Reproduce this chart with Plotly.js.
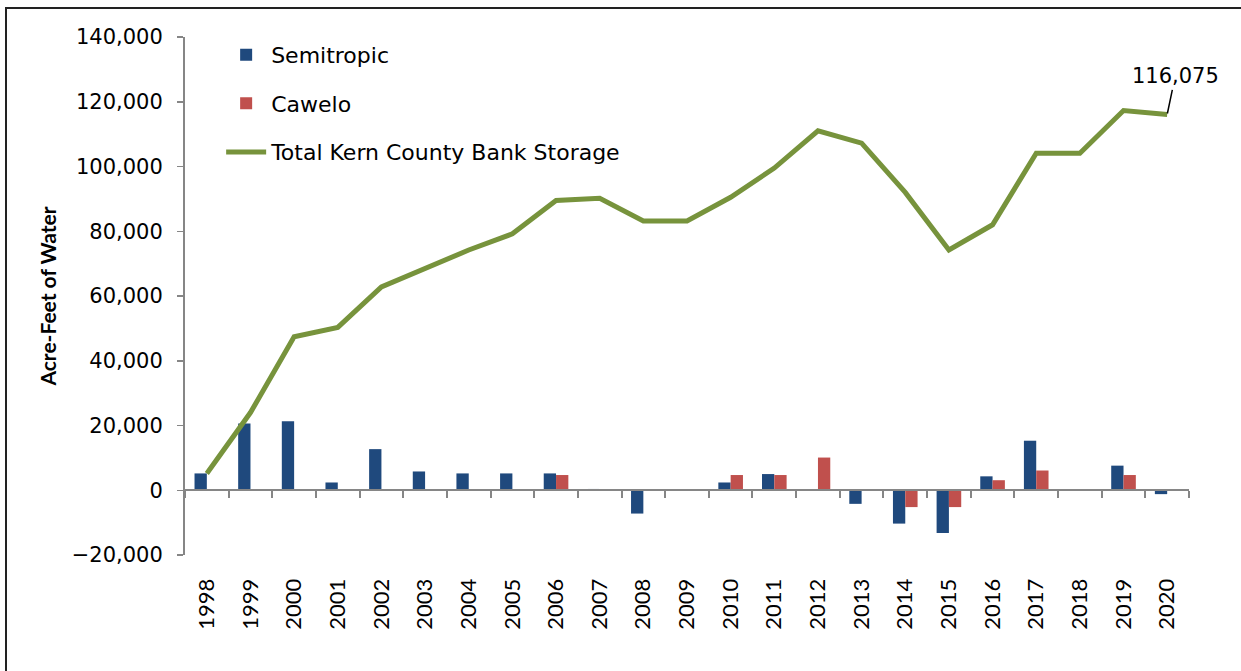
<!DOCTYPE html>
<html>
<head>
<meta charset="utf-8">
<script src="https://cdn.plot.ly/plotly-3.0.1.min.js"></script>
<style>
  html, body { margin: 0; padding: 0; background: #fff; }
  #chart { width: 1241px; height: 671px; }
  #frame {
    position: absolute; left: 5px; top: 7px; width: 1236px; height: 664px;
    border-left: 2px solid #222; border-top: 2px solid #222;
    pointer-events: none;
  }
</style>
</head>
<body>
<div id="chart"></div>
<div id="frame"></div>
<script>
// years on the category axis
const years = ['1998','1999','2000','2001','2002','2003','2004','2005','2006','2007','2008',
  '2009','2010','2011','2012','2013','2014','2015','2016','2017','2018','2019','2020'];

// annual put/take by district (acre-feet), null = no bar
const semitropic = [5200, 20600, 21300, 2400, 12700, 5800, 5200, 5200, 5200, 400, -7200,
  null, 2400, 5000, null, -4200, -10300, -13200, 4300, 15300, null, 7600, -1200];
const cawelo = [null, null, null, null, null, null, null, null, 4700, null, null,
  null, 4700, 4700, 10100, null, -5200, -5200, 3100, 6100, null, 4700, null];

// running total stored in the Kern County bank
const totalStorage = [5200, 24000, 47400, 50300, 62800, 68600, 74200, 79200, 89500, 90200, 83200,
  83200, 90500, 99500, 111000, 107200, 92000, 74200, 82000, 104100, 104100, 117300, 116075];

const yTicks = [-20000, 0, 20000, 40000, 60000, 80000, 100000, 120000, 140000];

const axisGray = '#868686';
const wideFont = 'DejaVu Sans, sans-serif';

const traces = [
  {
    type: 'bar', name: 'Semitropic', x: years, y: semitropic,
    marker: { color: '#1F497D' }, legendgroup: 'a'
  },
  {
    type: 'bar', name: 'Cawelo', x: years, y: cawelo,
    marker: { color: '#C0504D' }, legendgroup: 'b'
  },
  {
    type: 'scatter', mode: 'lines', name: 'Total Kern County Bank Storage',
    x: years, y: totalStorage, xaxis: 'x2', yaxis: 'y',
    line: { color: '#77933C', width: 5 }, legendgroup: 'c'
  }
];

const last = years.length - 1;

const layout = {
  width: 1241, height: 671,
  margin: { l: 185, r: 52, t: 37, b: 116 },
  paper_bgcolor: '#fff', plot_bgcolor: '#fff',
  barmode: 'group', bargap: 0.436, bargroupgap: 0,
  showlegend: true,
  legend: {
    x: 0.036, y: 1.006, xanchor: 'left', yanchor: 'top',
    font: { family: wideFont, size: 22, color: '#000' },
    tracegroupgap: 17, itemwidth: 40, bgcolor: 'rgba(0,0,0,0)'
  },
  xaxis: {
    type: 'category', range: [-0.5, last + 0.5],
    showline: false, showgrid: false, zeroline: false,
    ticks: 'outside', ticklen: 14, tickcolor: 'rgba(0,0,0,0)',
    tickangle: -90, tickfont: { family: 'Lato, sans-serif', size: 22, color: '#000' }
  },
  // zero baseline with ticks between the years
  xaxis2: {
    type: 'category', matches: 'x', overlaying: 'x', anchor: 'free', position: 0.125,
    showline: true, linecolor: axisGray, linewidth: 2,
    ticks: 'outside', tickson: 'boundaries', ticklen: 7, tickcolor: axisGray, tickwidth: 2,
    showticklabels: false, showgrid: false, zeroline: false
  },
  yaxis: {
    range: [-20000, 140000], tickvals: yTicks, tickformat: ',d',
    showline: true, linecolor: axisGray, linewidth: 2,
    ticks: 'outside', ticklen: 6, tickcolor: axisGray, tickwidth: 1.5,
    ticklabelstandoff: 10, automargin: true,
    showgrid: false, zeroline: false,
    tickfont: { family: wideFont, size: 21, color: '#000' },
    title: {
      text: 'Acre-Feet of Water', standoff: 9,
      font: { family: 'Lato, sans-serif', size: 21, color: '#000', weight: 'bold' }
    }
  },
  annotations: [{
    // last point of the total line; category axis addressed by index
    x: last, y: totalStorage[last], xref: 'x', yref: 'y',
    text: totalStorage[last].toLocaleString('en-US'),
    showarrow: true, arrowhead: 0, arrowwidth: 1.5, arrowcolor: '#000',
    ax: 8, ay: -38, standoff: 1,
    font: { family: wideFont, size: 21, color: '#000' }
  }]
};

Plotly.newPlot('chart', traces, layout, { displayModeBar: false, staticPlot: true });
</script>
</body>
</html>
